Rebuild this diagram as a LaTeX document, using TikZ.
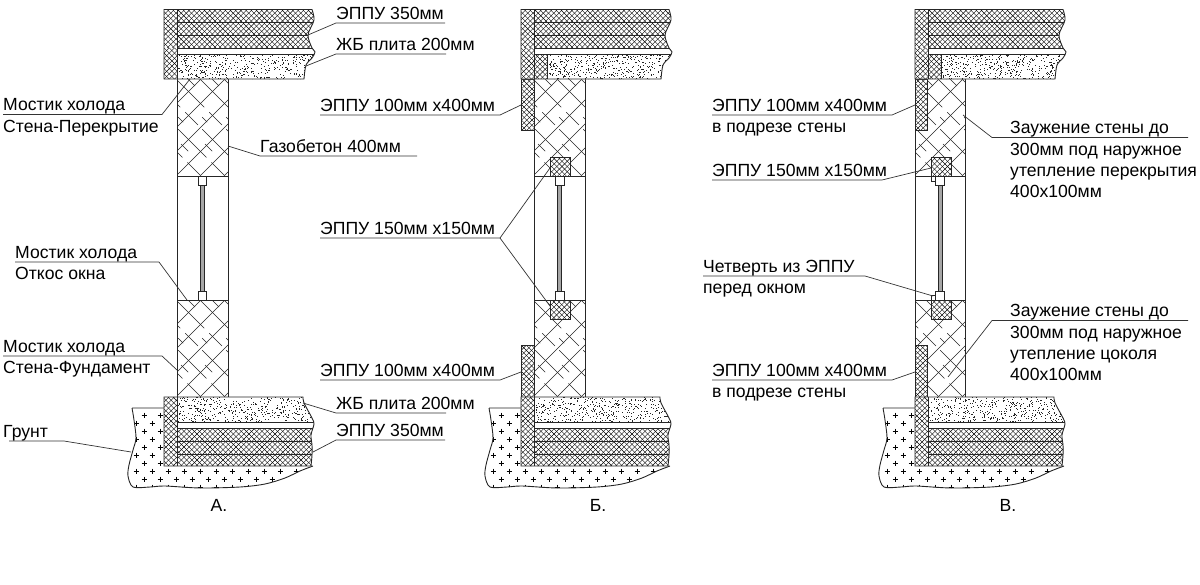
\documentclass[tikz,border=0pt]{standalone}
\usepackage{fontspec}
\setmainfont{Liberation Sans}
\usepackage{tikz}
\usetikzlibrary{calc}

\tikzset{
  hatchline/.style={line width=0.4pt, color=black},
  wallline/.style={line width=0.55pt, color=black!85},
  body/.style={line width=0.9pt, color=black!85},
  leader/.style={line width=0.7pt, color=black!80},
  lbl/.style={anchor=south west, inner xsep=0pt, inner ysep=3.5pt, text depth=0pt, font=\fontsize{17.6}{21}\selectfont},
  sublbl/.style={anchor=north west, inner xsep=0pt, inner ysep=5pt, text height=12.4pt, font=\fontsize{17.6}{21}\selectfont},
  panel/.style={font=\fontsize{17.6}{21}\selectfont},
}

% crosshatch for the EPPU insulation
\newcommand{\crossfill}[4]{%
  \begin{scope}
    \clip (#1,#2) rectangle (#3,#4);
    \pgfmathtruncatemacro{\hn}{(#3-#1+#4-#2)/5.2+1}
    \foreach \k in {0,...,\hn}{
      \draw[hatchline] ({#1-(#4-#2)+5.2*\k},#4) -- ++({#4-#2},{-(#4-#2)});
      \draw[hatchline] ({#1-(#4-#2)+5.2*\k},#2) -- ++({#4-#2},{#4-#2});
    }
  \end{scope}}

% random dots for the concrete slab
\newcommand{\stipple}[4]{%
  \foreach \k in {1,...,430}{
    \pgfmathsetmacro{\dx}{#1+rnd*(#3-#1)}
    \pgfmathsetmacro{\dy}{#2+rnd*(#4-#2)}
    \fill[black!85] (\dx,\dy) rectangle ++(0.85,0.85);
  }}

% gas concrete wall
\newcommand{\wallfill}[4]{%
  \begin{scope}
    \clip (#1,#2) rectangle (#3,#4);
    \foreach \k in {0,...,7}{
      \draw[wallline] ({#1-(#4-#2)+24*\k},#4) -- ++({#4-#2},{-(#4-#2)});
      \draw[wallline, dash pattern=on 40pt off 7pt on 18pt off 6pt] ({#1-(#4-#2)+24*\k},#2) -- ++({#4-#2},{#4-#2});
      \draw[wallline, dash pattern=on 10pt off 44pt on 7pt off 31pt] ({#1-(#4-#2)+12+24*\k},#2) -- ++({#4-#2},{#4-#2});
    }
  \end{scope}}

% EPPU box
\newcommand{\xbox}[4]{%
  \fill[white] (#1,#2) rectangle (#3,#4);
  \crossfill{#1}{#2}{#3}{#4}
  \draw[body] (#1,#2) rectangle (#3,#4);}

% floor block over the wall, #1 = start of the slab
\newcommand{\roofblock}[1]{%
  \begin{scope}
    \clip (164,9.5) -- plot[smooth] coordinates {(312,9.5)(314,20)(308,35)(312,48)(315,52)(312,58)(306,65)(304,79)} -- (164,79) -- cycle;
    \fill[white] (160,5) rectangle (320,85);
    \crossfill{164}{9.5}{320}{48}
    \crossfill{164}{48}{177}{79}
    \crossfill{177}{54.5}{#1}{79}
    \stipple{#1}{54.5}{316}{79}
    \draw[body] (177,22) -- (320,22) (177,35) -- (320,35) (177,48) -- (320,48) (177,54.5) -- (320,54.5);
    \draw[body] (177,9.5) -- (177,79) (#1,54.5) -- (#1,79);
  \end{scope}
  \draw[body] (164,9.5) -- plot[smooth] coordinates {(312,9.5)(314,20)(308,35)(312,48)(315,52)(312,58)(306,65)(304,79)} -- (164,79) -- cycle;}

% floor block under the wall
\newcommand{\baseblock}{%
  \begin{scope}
    \clip (164,397) -- plot[smooth] coordinates {(303,397)(304,403)(312,418)(314,424)(311,435)(312,445)(312,455)(311,466)} -- (164,466) -- cycle;
    \fill[white] (160,390) rectangle (320,470);
    \crossfill{164}{397}{177}{466}
    \crossfill{177}{428}{320}{466}
    \stipple{177}{397}{316}{422}
    \draw[body] (177,422) -- (320,422) (177,428) -- (320,428) (177,441) -- (320,441) (177,454) -- (320,454);
    \draw[body] (177,397) -- (177,466);
  \end{scope}
  \draw[body] (164,397) -- plot[smooth] coordinates {(303,397)(304,403)(312,418)(314,424)(311,435)(312,445)(312,455)(311,466)} -- (164,466) -- cycle;}

% ground around the base
\newcommand{\groundblock}{%
  \begin{scope}
    \clip (164,408) -- (132,408) plot[smooth] coordinates {(132,408)(134,420)(136,438)(133,450)(129,465)(128,476)(133,487)(150,487)(165,486)(200,488)(240,487)(265,484)(285,478)(300,471)(313,466)} -- (300,400) -- cycle;
    \foreach \j in {0,...,9}{
      \foreach \m in {0,...,10}{
        \pgfmathsetmacro{\px}{144-8*mod(\j,2)+16*\m}
        \draw[line width=0.6pt] ({\px-2.5},{415+8*\j}) -- ++(5,0) ({\px},{415+8*\j-2.5}) -- ++(0,5);
      }
    }
  \end{scope}
  \draw[body] (164,408) -- (132,408) plot[smooth] coordinates {(132,408)(134,420)(136,438)(133,450)(129,465)(128,476)(133,487)(150,487)(165,486)(200,488)(240,487)(265,484)(285,478)(300,471)(313,466)};}

% window glass and its two stops
\newcommand{\glazing}[1]{%
  \fill[black!35] ({#1-2},185) rectangle ({#1+2},291);
  \draw[body] ({#1-2},185) -- ({#1-2},291) ({#1+2},185) -- ({#1+2},291);
  \draw[body, fill=white] ({#1-4.3},176) rectangle ({#1+4.3},185);
  \draw[body, fill=white] ({#1-4.3},291) rectangle ({#1+4.3},300);}

\begin{document}
\begin{tikzpicture}[x=1pt, y=-1pt]
\pgfmathsetseed{4242}
\useasboundingbox (0,0) rectangle (1200,584);

%%%%% Panel A %%%%%
\groundblock
\wallfill{177}{79}{228}{176}
\wallfill{177}{300}{228}{397}
\draw[body] (177,79) -- (177,397) (228,79) -- (228,397) (177,176) -- (228,176) (177,300) -- (228,300);
\glazing{202.5}
\roofblock{177}
\baseblock
\node[panel] (capa) at (219,505) {А.};

%%%%% Panel B %%%%%
\begin{scope}[shift={(357,0)}]
\groundblock
\end{scope}
\wallfill{534}{79}{585.5}{176}
\wallfill{534}{300}{585.5}{397}
\draw[body] (534,79) -- (534,397) (585.5,79) -- (585.5,397) (534,176) -- (585.5,176) (534,300) -- (585.5,300);
\glazing{559.7}
\xbox{550.7}{157}{570}{176}
\xbox{550.7}{300}{570}{319.5}
\xbox{521}{79}{534}{130}
\xbox{521}{345.3}{534}{397}
\begin{scope}[shift={(357,0)}]
\roofblock{190.5}
\baseblock
\end{scope}
\node[panel] (capb) at (598,505) {Б.};

%%%%% Panel C %%%%%
\begin{scope}[shift={(751,0)}]
\groundblock
\end{scope}
\wallfill{915}{79}{965.5}{176}
\wallfill{915}{300}{965.5}{397}
\draw[body] (915,79) -- (915,397) (965.5,79) -- (965.5,397) (915,176) -- (965.5,176) (915,300) -- (965.5,300);
\glazing{940}
\xbox{931}{157}{951}{176}
\xbox{931}{300}{951}{319.5}
\draw[body] (931,176) -- (931,181) -- (935.7,181) (931,300) -- (931,295.5) -- (935.7,295.5);
\xbox{915}{79}{927.7}{130}
\xbox{915}{345}{927.7}{397}
\begin{scope}[shift={(751,0)}]
\roofblock{190}
\baseblock
\end{scope}
\node[panel] (capc) at (1008,505) {В.};

%%%%% Labels A %%%%%
\coordinate (tepputop) at (308,35);
\coordinate (tslabtop) at (306,66);
\coordinate (tbridgea) at (190,79);
\coordinate (tgas) at (228,146);
\coordinate (tbridgeb) at (187,300);
\coordinate (tbridgec) at (177,370);
\coordinate (tground) at (131,452);
\coordinate (tslabbot) at (303,403);
\coordinate (teppubot) at (313,452);

\node[lbl] (eppua) at (336,23) {ЭППУ 350мм};
\draw[leader] (eppua.south west) ++(109,0) -- (eppua.south west) -- (tepputop);
\node[lbl] (slaba) at (336,54) {ЖБ плита 200мм};
\draw[leader] (slaba.south west) ++(110,0) -- (slaba.south west) -- (tslabtop);
\node[lbl] (bridgea) at (3,114.5) {Мостик холода};
\node[sublbl] (bridgeas) at (3,114.5) {Стена-Перекрытие};
\draw[leader] (bridgea.south west) -- ++(159,0) -- (tbridgea);
\node[lbl] (gas) at (260,156) {Газобетон 400мм};
\draw[leader] (gas.south west) ++(157,0) -- (gas.south west) -- (tgas);
\node[lbl] (bridgeb) at (15,262) {Мостик холода};
\node[sublbl] (bridgebs) at (15,262) {Откос окна};
\draw[leader] (bridgeb.south west) -- ++(144,0) -- (tbridgeb);
\node[lbl] (bridgec) at (3,356) {Мостик холода};
\node[sublbl] (bridgecs) at (3,356) {Стена-Фундамент};
\draw[leader] (bridgec.south west) -- ++(159,0) -- (tbridgec);
\node[lbl] (ground) at (3,441) {Грунт};
\draw[leader] (ground.south west) ++(6,0) -- ++(55,0) -- (tground);
\node[lbl] (slabb) at (336,413) {ЖБ плита 200мм};
\draw[leader] (slabb.south west) ++(110,0) -- (slabb.south west) -- (tslabbot);
\node[lbl] (eppub) at (336,440) {ЭППУ 350мм};
\draw[leader] (eppub.south west) ++(109,0) -- (eppub.south west) -- (teppubot);

%%%%% Labels B %%%%%
\coordinate (tupb) at (521,105);
\coordinate (tcuba) at (550.7,167);
\coordinate (tcubb) at (550.7,307);
\coordinate (tlowb) at (521,372);

\node[lbl] (upb) at (320,115) {ЭППУ 100мм х400мм};
\draw[leader] (upb.south west) -- ++(180,0) -- (tupb);
\node[lbl] (cub) at (320,238) {ЭППУ 150мм х150мм};
\draw[leader] (cub.south west) -- ++(180,0) coordinate (cubend) -- (tcuba);
\draw[leader] (cubend) -- (tcubb);
\node[lbl] (lowb) at (320,380) {ЭППУ 100мм х400мм};
\draw[leader] (lowb.south west) -- ++(180,0) -- (tlowb);

%%%%% Labels C %%%%%
\coordinate (tupc) at (915,105);
\coordinate (tcubc) at (931,168);
\coordinate (tquart) at (933,296);
\coordinate (tlowc) at (915,372);
\coordinate (tnarra) at (963,115);
\coordinate (tnarrb) at (948,377);

\node[lbl] (upc) at (712,115) {ЭППУ 100мм х400мм};
\node[sublbl] (upcs) at (712,115) {в подрезе стены};
\draw[leader] (upc.south west) -- ++(180,0) -- (tupc);
\node[lbl] (cubc) at (712,180) {ЭППУ 150мм х150мм};
\draw[leader] (cubc.south west) -- ++(170,0) -- (tcubc);
\node[lbl] (quart) at (703,276) {Четверть из ЭППУ};
\node[sublbl] (quarts) at (703,276) {перед окном};
\draw[leader] (quart.south west) -- ++(162,0) -- (tquart);
\node[lbl] (lowc) at (712,380) {ЭППУ 100мм х400мм};
\node[sublbl] (lowcs) at (712,380) {в подрезе стены};
\draw[leader] (lowc.south west) -- ++(180,0) -- (tlowc);
\node[lbl] (narra) at (1010,137.5) {Заужение стены до};
\node[sublbl] (narras) at (1010,137.5) {300мм под наружное};
\node[sublbl] (narrat) at (1010,158.5) {утепление перекрытия};
\node[sublbl] (narrau) at (1010,179.5) {400х100мм};
\draw[leader] (narra.south west) ++(178,0) -- ($(narra.south west)+(-18,0)$) -- (tnarra);
\node[lbl] (narrb) at (1010,320.5) {Заужение стены до};
\node[sublbl] (narrbs) at (1010,320.5) {300мм под наружное};
\node[sublbl] (narrbt) at (1010,341.5) {утепление цоколя};
\node[sublbl] (narrbu) at (1010,362.5) {400х100мм};
\draw[leader] (narrb.south west) ++(178,0) -- ($(narrb.south west)+(-18,0)$) -- (tnarrb);
\end{tikzpicture}
\end{document}
